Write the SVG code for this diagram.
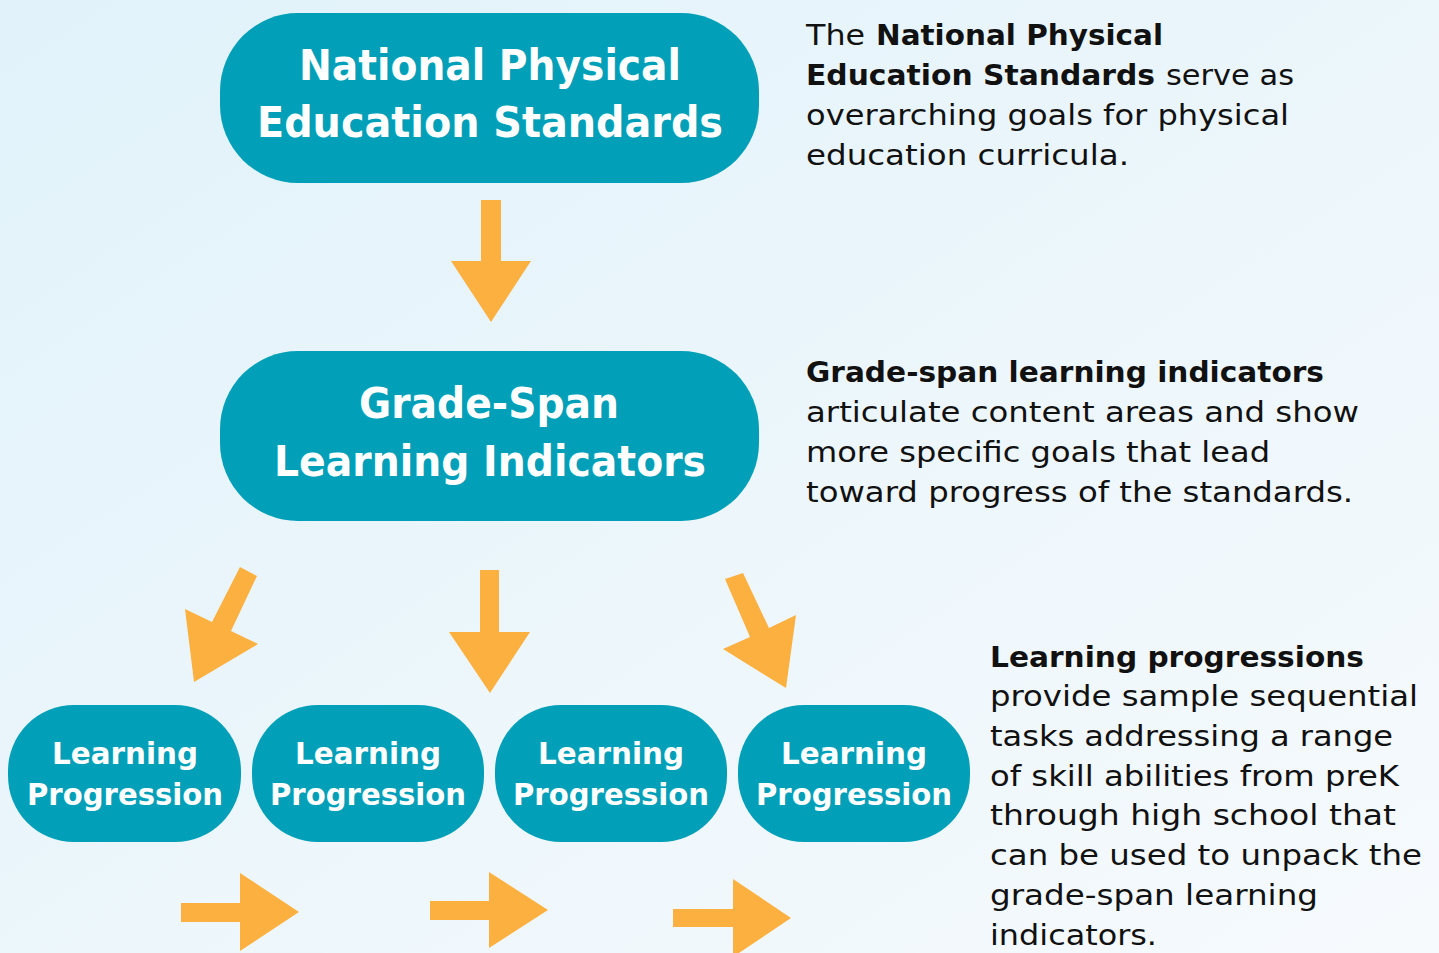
<svg xmlns="http://www.w3.org/2000/svg" width="1439" height="953" viewBox="0 0 1439 953">
  <defs>
    <linearGradient id="bg" x1="0" y1="0" x2="1" y2="1">
      <stop offset="0" stop-color="#E1F2FA"/>
      <stop offset="1" stop-color="#F6FAFD"/>
    </linearGradient>
    <style>
      .box { fill: #02A0B8; }
      .bt { font-family: "DejaVu Sans", "Noto Sans", sans-serif; font-weight: 700; fill: #FFFFFF; text-anchor: middle; }
      .big { font-size: 42px; }
      .sm { font-size: 30px; }
      .d { font-family: "DejaVu Sans", "Noto Sans", sans-serif; font-size: 29px; fill: #111111; }
      .b { font-weight: 700; }
      .arr { fill: #FBB040; }
    </style>
  </defs>
  <rect x="0" y="0" width="1439" height="953" fill="url(#bg)"/>

  <g id="connectors">
    <polygon class="arr" points="481,200 501,200 501,261 531,261 491,322 451,261 481,261"/>
    <polygon class="arr" points="240,567 257,576 231,631 258,644 194,682 185,609 212,622"/>
    <polygon class="arr" points="480,570 499,570 499,632 530,632 490,693 449,632 480,632"/>
    <polygon class="arr" points="725,579 743,573 769,628 796,615 786,688 723,649 750,637"/>
    <polygon class="arr" points="181,903 240,903 240,873 299,912 240,951 240,922 181,922"/>
    <polygon class="arr" points="430,901 489,901 489,872 548,910 489,948 489,920 430,920"/>
    <polygon class="arr" points="673,909 733,909 733,879 791,918 733,957 733,927 673,927"/>
  </g>

  <g id="node-standards">
    <rect class="box" x="220" y="13" width="539" height="170" rx="78" ry="78"/>
    <text class="bt big" x="490" y="80" textLength="382" lengthAdjust="spacingAndGlyphs">National Physical</text>
    <text class="bt big" x="490" y="137" textLength="466" lengthAdjust="spacingAndGlyphs">Education Standards</text>
  </g>

  <g id="node-indicators">
    <rect class="box" x="220" y="351" width="539" height="170" rx="78" ry="78"/>
    <text class="bt big" x="489" y="418" textLength="260" lengthAdjust="spacingAndGlyphs">Grade-Span</text>
    <text class="bt big" x="490" y="476" textLength="432" lengthAdjust="spacingAndGlyphs">Learning Indicators</text>
  </g>

  <g id="node-lp1">
    <rect class="box" x="8" y="705" width="233" height="137" rx="66" ry="66"/>
    <text class="bt sm" x="125" y="764" textLength="146" lengthAdjust="spacingAndGlyphs">Learning</text>
    <text class="bt sm" x="125" y="805" textLength="196" lengthAdjust="spacingAndGlyphs">Progression</text>
  </g>
  <g id="node-lp2">
    <rect class="box" x="252" y="705" width="232" height="137" rx="66" ry="66"/>
    <text class="bt sm" x="368" y="764" textLength="146" lengthAdjust="spacingAndGlyphs">Learning</text>
    <text class="bt sm" x="368" y="805" textLength="196" lengthAdjust="spacingAndGlyphs">Progression</text>
  </g>
  <g id="node-lp3">
    <rect class="box" x="495" y="705" width="232" height="137" rx="66" ry="66"/>
    <text class="bt sm" x="611" y="764" textLength="146" lengthAdjust="spacingAndGlyphs">Learning</text>
    <text class="bt sm" x="611" y="805" textLength="196" lengthAdjust="spacingAndGlyphs">Progression</text>
  </g>
  <g id="node-lp4">
    <rect class="box" x="738" y="705" width="232" height="137" rx="66" ry="66"/>
    <text class="bt sm" x="854" y="764" textLength="146" lengthAdjust="spacingAndGlyphs">Learning</text>
    <text class="bt sm" x="854" y="805" textLength="196" lengthAdjust="spacingAndGlyphs">Progression</text>
  </g>

  <g id="desc-standards">
    <text class="d" x="806" y="45" textLength="59" lengthAdjust="spacingAndGlyphs">The</text>
    <text class="d b" x="876" y="45" textLength="287" lengthAdjust="spacingAndGlyphs">National Physical</text>
    <text class="d b" x="806" y="85" textLength="349" lengthAdjust="spacingAndGlyphs">Education Standards</text>
    <text class="d" x="1166" y="85" textLength="128" lengthAdjust="spacingAndGlyphs">serve as</text>
    <text class="d" x="806" y="125" textLength="483" lengthAdjust="spacingAndGlyphs">overarching goals for physical</text>
    <text class="d" x="806" y="165" textLength="323" lengthAdjust="spacingAndGlyphs">education curricula.</text>
  </g>

  <g id="desc-indicators">
    <text class="d b" x="806" y="382" textLength="518" lengthAdjust="spacingAndGlyphs">Grade-span learning indicators</text>
    <text class="d" x="806" y="422" textLength="553" lengthAdjust="spacingAndGlyphs">articulate content areas and show</text>
    <text class="d" x="806" y="462" textLength="464" lengthAdjust="spacingAndGlyphs">more specific goals that lead</text>
    <text class="d" x="806" y="502" textLength="547" lengthAdjust="spacingAndGlyphs">toward progress of the standards.</text>
  </g>

  <g id="desc-progressions">
    <text class="d b" x="990" y="667" textLength="374" lengthAdjust="spacingAndGlyphs">Learning progressions</text>
    <text class="d" x="990" y="706" textLength="428" lengthAdjust="spacingAndGlyphs">provide sample sequential</text>
    <text class="d" x="990" y="746" textLength="403" lengthAdjust="spacingAndGlyphs">tasks addressing a range</text>
    <text class="d" x="990" y="786" textLength="409" lengthAdjust="spacingAndGlyphs">of skill abilities from preK</text>
    <text class="d" x="990" y="825" textLength="406" lengthAdjust="spacingAndGlyphs">through high school that</text>
    <text class="d" x="990" y="865" textLength="432" lengthAdjust="spacingAndGlyphs">can be used to unpack the</text>
    <text class="d" x="990" y="905" textLength="328" lengthAdjust="spacingAndGlyphs">grade-span learning</text>
    <text class="d" x="990" y="945" textLength="167" lengthAdjust="spacingAndGlyphs">indicators.</text>
  </g>
</svg>
